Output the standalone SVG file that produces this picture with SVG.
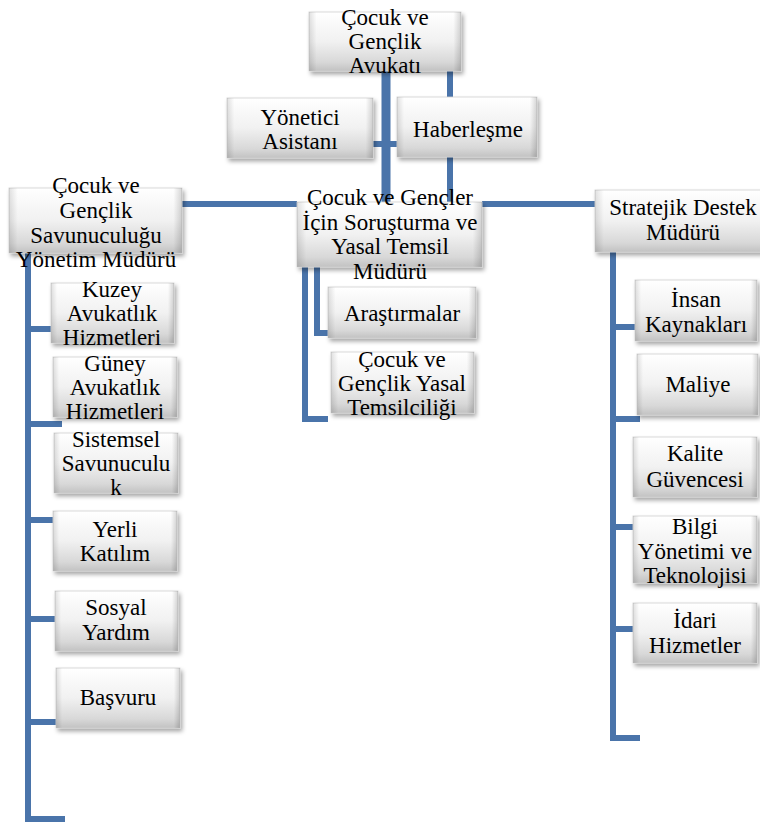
<svg xmlns="http://www.w3.org/2000/svg" width="760" height="825" viewBox="0 0 760 825">
<defs>
<linearGradient id="gv" x1="0" y1="0" x2="0" y2="1">
<stop offset="0" stop-color="#ffffff"/>
<stop offset="0.5" stop-color="#f1f1f1"/>
<stop offset="0.85" stop-color="#d8d8d8"/>
<stop offset="1" stop-color="#c2c2c2"/>
</linearGradient>
<linearGradient id="gh" x1="0" y1="0" x2="1" y2="0">
<stop offset="0" stop-color="#000" stop-opacity="0.12"/>
<stop offset="0.05" stop-color="#000" stop-opacity="0"/>
<stop offset="0.95" stop-color="#000" stop-opacity="0"/>
<stop offset="1" stop-color="#000" stop-opacity="0.16"/>
</linearGradient>
<filter id="sh" x="-10%" y="-10%" width="125%" height="135%">
<feDropShadow dx="2" dy="3" stdDeviation="2" flood-color="#000" flood-opacity="0.35"/>
</filter>
</defs>
<style>
.b{fill:url(#gv);stroke:#cfcfcf;stroke-width:0.8;filter:url(#sh)}
.e{fill:url(#gh);stroke:none}
text{font-family:'Liberation Serif','Times New Roman','DejaVu Serif',serif;font-size:23px;fill:#000;text-anchor:middle}
.c{fill:none;stroke:#4a74aa;stroke-width:6;stroke-linecap:butt;stroke-linejoin:miter}
</style>
<rect width="760" height="825" fill="#fff"/>
<g id="connectors">
<line class="c" x1="386" y1="71" x2="386" y2="202" style="stroke-width:9"/>
<line class="c" x1="373" y1="144" x2="397" y2="144"/>
<line class="c" x1="450" y1="71" x2="450" y2="202"/>
<line class="c" x1="182" y1="204" x2="297" y2="204"/>
<line class="c" x1="482" y1="204" x2="595" y2="204"/>
<polyline class="c" points="28,253 28,819 65,819"/>
<line class="c" x1="28" y1="329" x2="51" y2="329"/>
<line class="c" x1="28" y1="424" x2="62" y2="424"/>
<line class="c" x1="28" y1="520" x2="53" y2="520"/>
<line class="c" x1="28" y1="619" x2="55" y2="619"/>
<line class="c" x1="28" y1="722" x2="56" y2="722"/>
<polyline class="c" points="305,267 305,419 328,419"/>
<polyline class="c" points="317,267 317,333 330,333"/>
<polyline class="c" points="613,252 613,738 640,738"/>
<line class="c" x1="613" y1="327" x2="635" y2="327"/>
<line class="c" x1="613" y1="419" x2="640" y2="419"/>
<line class="c" x1="613" y1="527" x2="633" y2="527"/>
<line class="c" x1="613" y1="629" x2="633" y2="629"/>
</g>
<g font-family="Liberation Serif, Times New Roman, serif">
<g id="avukat">
<rect class="b" x="309" y="12" width="152" height="59"/><rect class="e" x="309" y="12" width="152" height="59"/>
<text x="385" y="25">Çocuk ve</text><text x="385" y="49">Gençlik</text><text x="385" y="73">Avukatı</text>
</g>
<g id="asistan">
<rect class="b" x="227" y="98" width="146" height="60"/><rect class="e" x="227" y="98" width="146" height="60"/>
<text x="300" y="125">Yönetici</text><text x="300" y="149">Asistanı</text>
</g>
<g id="haberlesme">
<rect class="b" x="397" y="97" width="140" height="60"/><rect class="e" x="397" y="97" width="140" height="60"/>
<text x="468" y="137">Haberleşme</text>
</g>
<g id="savunuculuk">
<rect class="b" x="9" y="188" width="173" height="65"/><rect class="e" x="9" y="188" width="173" height="65"/>
<text x="96" y="193">Çocuk ve</text><text x="96" y="218">Gençlik</text><text x="96" y="243">Savunuculuğu</text><text x="96" y="267">Yönetim Müdürü</text>
</g>
<g id="sorusturma">
<rect class="b" x="297" y="202" width="185" height="65"/><rect class="e" x="297" y="202" width="185" height="65"/>
<text x="390" y="205">Çocuk ve Gençler</text><text x="390" y="230">İçin Soruşturma ve</text><text x="390" y="254">Yasal Temsil</text><text x="390" y="279">Müdürü</text>
</g>
<g id="stratejik">
<rect class="b" x="595" y="190" width="176" height="62"/><rect class="e" x="595" y="190" width="176" height="62"/>
<text x="683" y="215">Stratejik Destek</text><text x="683" y="240">Müdürü</text>
</g>
<g id="kuzey">
<rect class="b" x="51" y="283" width="123" height="60"/><rect class="e" x="51" y="283" width="123" height="60"/>
<text x="112" y="297">Kuzey</text><text x="112" y="321">Avukatlık</text><text x="112" y="345">Hizmetleri</text>
</g>
<g id="guney">
<rect class="b" x="53" y="357" width="124" height="60"/><rect class="e" x="53" y="357" width="124" height="60"/>
<text x="115" y="371">Güney</text><text x="115" y="395">Avukatlık</text><text x="115" y="419">Hizmetleri</text>
</g>
<g id="sistemsel">
<rect class="b" x="54" y="433" width="124" height="60"/><rect class="e" x="54" y="433" width="124" height="60"/>
<text x="116" y="447">Sistemsel</text><text x="116" y="471">Savunuculu</text><text x="116" y="495">k</text>
</g>
<g id="yerli">
<rect class="b" x="53" y="511" width="124" height="60"/><rect class="e" x="53" y="511" width="124" height="60"/>
<text x="115" y="537">Yerli</text><text x="115" y="561">Katılım</text>
</g>
<g id="sosyal">
<rect class="b" x="55" y="591" width="123" height="60"/><rect class="e" x="55" y="591" width="123" height="60"/>
<text x="116" y="615">Sosyal</text><text x="116" y="640">Yardım</text>
</g>
<g id="basvuru">
<rect class="b" x="56" y="668" width="124" height="60"/><rect class="e" x="56" y="668" width="124" height="60"/>
<text x="118" y="705">Başvuru</text>
</g>
<g id="arastirmalar">
<rect class="b" x="328" y="287" width="148" height="51"/><rect class="e" x="328" y="287" width="148" height="51"/>
<text x="402" y="321">Araştırmalar</text>
</g>
<g id="yasal">
<rect class="b" x="331" y="352" width="143" height="61"/><rect class="e" x="331" y="352" width="143" height="61"/>
<text x="402" y="367">Çocuk ve</text><text x="402" y="391">Gençlik Yasal</text><text x="402" y="415">Temsilciliği</text>
</g>
<g id="insan">
<rect class="b" x="635" y="280" width="122" height="61"/><rect class="e" x="635" y="280" width="122" height="61"/>
<text x="696" y="307">İnsan</text><text x="696" y="332">Kaynakları</text>
</g>
<g id="maliye">
<rect class="b" x="637" y="354" width="121" height="61"/><rect class="e" x="637" y="354" width="121" height="61"/>
<text x="698" y="392">Maliye</text>
</g>
<g id="kalite">
<rect class="b" x="633" y="437" width="124" height="60"/><rect class="e" x="633" y="437" width="124" height="60"/>
<text x="695" y="461">Kalite</text><text x="695" y="487">Güvencesi</text>
</g>
<g id="bilgi">
<rect class="b" x="633" y="516" width="124" height="67"/><rect class="e" x="633" y="516" width="124" height="67"/>
<text x="695" y="534">Bilgi</text><text x="695" y="559">Yönetimi ve</text><text x="695" y="583">Teknolojisi</text>
</g>
<g id="idari">
<rect class="b" x="633" y="603" width="124" height="60"/><rect class="e" x="633" y="603" width="124" height="60"/>
<text x="695" y="628">İdari</text><text x="695" y="653">Hizmetler</text>
</g>
</g>
</svg>
